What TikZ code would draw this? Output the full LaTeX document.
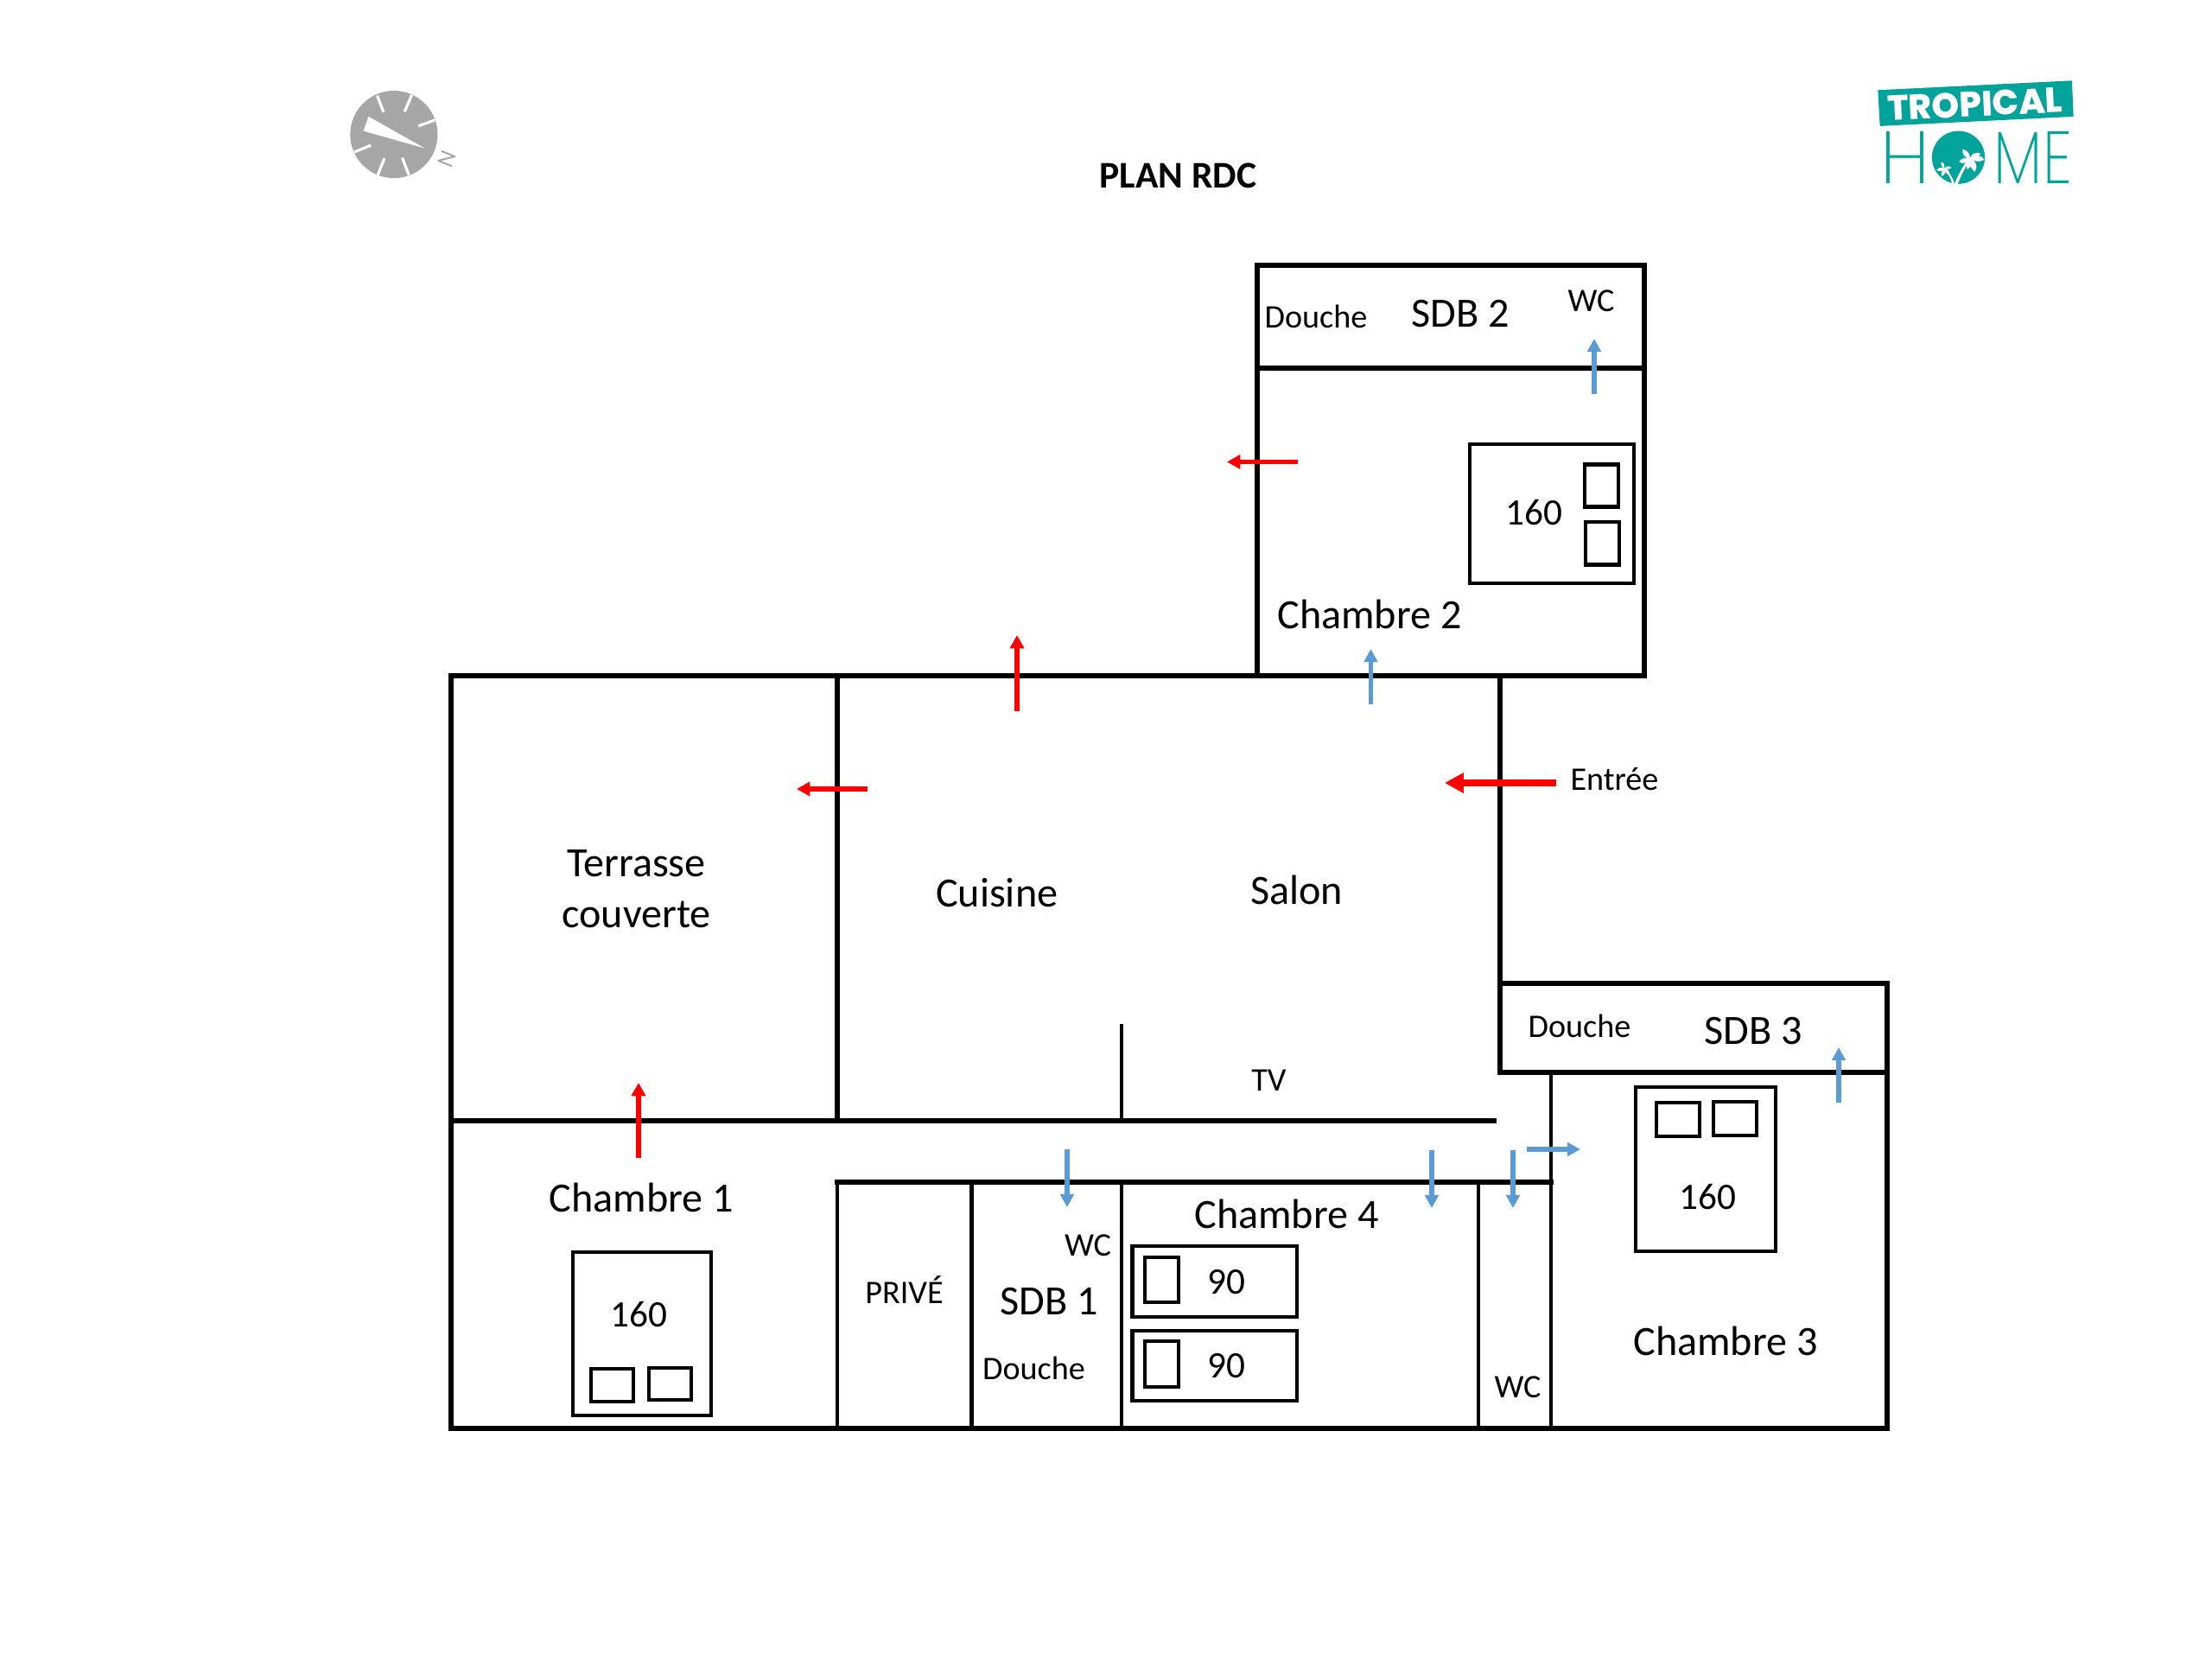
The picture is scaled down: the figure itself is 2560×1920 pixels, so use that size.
\documentclass[tikz,border=0pt]{standalone}
\usepackage{fontspec}
\usetikzlibrary{arrows.meta}
\setmainfont{Carlito}
\newfontfamily\logofont{Poppins}[UprightFont=* ExtraLight,BoldFont=* ExtraBold]
\definecolor{logoteal}{HTML}{02A39B}
\definecolor{compassgray}{HTML}{A6A6A6}
\definecolor{doorblue}{HTML}{5B9BD5}
\tikzset{
  wall/.style={line width=1.55pt,line cap=rect,line join=miter},
  partition/.style={line width=1.4pt},
  bedframe/.style={line width=1.15pt},
  pillow/.style={line width=1.25pt},
  roomname/.style={anchor=base,inner sep=0pt,font=\fontsize{13.7pt}{16.8pt}\selectfont},
  spotname/.style={anchor=base,inner sep=0pt,font=\fontsize{10.85pt}{13pt}\selectfont},
  bedsize/.style={anchor=base,inner sep=0pt,font=\fontsize{12.3pt}{14pt}\selectfont},
  reddoor/.style={red,line width=1.6pt,-{Triangle[length=4.4pt,width=4.6pt]}},
  bluedoor/.style={doorblue,line width=1.6pt,-{Triangle[length=4.3pt,width=4.4pt]}},
  tick/.style={white,line width=.9pt}
}
\begin{document}
\begin{tikzpicture}[x=0.01cm,y=-0.01cm]
\useasboundingbox (0,0) rectangle (2560,1920);

\draw[wall] (522,782) rectangle (969,1297);
\draw[wall] (522,1297) |- (2184,1653) -- (2184,1241);
\draw[wall] (969,782) -- (1903,782);
\draw[wall] (1455,782) |- (1903,307) -- (1903,782);
\draw[wall] (1455,426) -- (1903,426);
\draw[wall] (1736,1138) rectangle (2184,1241);
\draw[wall] (969,1297) -- (1729,1297);
\draw[wall] (969,1368) -- (1795,1368);
\draw[wall] (1736,782) -- (1736,1138);
\draw[partition] (1795,1241) -- (1795,1653);
\draw[partition] (1298,1185) -- (1298,1297);
\draw[partition] (969,1368) -- (969,1653);
\draw[partition] (1124.5,1368) -- (1124.5,1653);
\draw[partition] (1298,1368) -- (1298,1653);
\draw[partition] (1711,1368) -- (1711,1653);

\draw[bedframe] (1701,514) rectangle (1891,675);
\draw[pillow] (1834,537.5) rectangle (1873,586.5);
\draw[pillow] (1835,604) rectangle (1874,653.5);
\draw[bedframe] (663,1449) rectangle (823,1638);
\draw[pillow] (684,1584) rectangle (733,1622);
\draw[pillow] (751,1583) rectangle (800,1620);
\draw[bedframe] (1893,1258) rectangle (2055,1448);
\draw[pillow] (1917,1276) rectangle (1967,1315);
\draw[pillow] (1983,1275) rectangle (2033,1314);
\draw[bedframe] (1310.5,1442) rectangle (1501,1524);
\draw[pillow] (1325,1455) rectangle (1364,1507);
\draw[bedframe] (1310.5,1540) rectangle (1501,1621);
\draw[pillow] (1325,1552) rectangle (1364,1605);

\draw[reddoor] (1502,534.5) -- (1420,534.5);
\draw[reddoor] (1177,823) -- (1177,735);
\draw[reddoor] (1004,913) -- (922,913);
\draw[reddoor] (739,1340) -- (739,1253);
\draw[red,line width=2.2pt,-{Triangle[length=6.2pt,width=6.3pt]}] (1801,906) -- (1672,906);
\draw[bluedoor] (1845,456) -- (1845,392);
\draw[bluedoor] (1586.5,815) -- (1586.5,751);
\draw[bluedoor] (1235,1330) -- (1235,1397);
\draw[bluedoor] (1657,1331) -- (1657,1398);
\draw[bluedoor] (1751,1331) -- (1751,1398);
\draw[bluedoor] (1767,1330) -- (1829,1330);
\draw[bluedoor] (2128,1276) -- (2128,1212);

\node[anchor=base,inner sep=0pt,font=\fontsize{12.4pt}{14pt}\selectfont\bfseries] (title) at (1363.5,217) {PLAN RDC};
\node[spotname] (douche2) at (1523,379) {Douche};
\node[roomname] (sdb2) at (1690.5,378) {SDB 2};
\node[spotname] (wc2) at (1841.5,360) {WC};
\node[bedsize] (bed2) at (1775.5,607) {160};
\node[roomname] (chambre2) at (1585,727) {Chambre 2};
\node[spotname] (entree) at (1868.5,914) {Entrée};
\node[roomname,anchor=center,align=center] (terrasse) at (736.5,1029) {Terrasse\\couverte};
\node[roomname] (cuisine) at (1153.75,1049) {Cuisine};
\node[roomname] (salon) at (1500.5,1046) {Salon};
\node[spotname] (tv) at (1468.5,1262) {TV};
\node[spotname] (douche3) at (1828,1200) {Douche};
\node[roomname] (sdb3) at (2029.5,1208) {SDB 3};
\node[bedsize] (bed3) at (1976.5,1399) {160};
\node[roomname] (chambre3) at (1997,1568) {Chambre 3};
\node[spotname] (wc4) at (1756.5,1617) {WC};
\node[roomname] (chambre1) at (742.5,1402) {Chambre 1};
\node[bedsize] (bed1) at (739.5,1535) {160};
\node[spotname] (prive) at (1046.5,1508) {PRIVÉ};
\node[roomname] (sdb1) at (1214,1521) {SDB 1};
\node[spotname] (wc1) at (1259,1453) {WC};
\node[spotname] (douche1) at (1196.5,1596) {Douche};
\node[roomname] (chambre4) at (1489,1421) {Chambre 4};
\node[bedsize] (bed4a) at (1419.5,1497) {90};
\node[bedsize] (bed4b) at (1419.5,1594) {90};

\begin{scope}[shift={(380,80)},x=0.00333cm,y=-0.00333cm]
\fill[compassgray] (228,227) circle (152);
\draw[tick] (192,150) -- (170,92);
\draw[tick] (265,148) -- (290,90);
\draw[tick] (313,198) -- (370,177);
\draw[tick] (148,265) -- (90,288);
\draw[tick] (195,310) -- (172,368);
\draw[tick] (257,308) -- (280,368);
\fill[white] (140,165) -- (122,215) -- (335,275) -- cycle;
\node[inner sep=0pt,rotate=-112,text=compassgray,font=\fontsize{7.8pt}{9pt}\selectfont] (north) at (414,312) {N};
\end{scope}

\begin{scope}[shift={(2160,70)},x=0.00333cm,y=-0.00333cm]
\fill[logoteal] (40,103) -- (715,70) -- (720,195) -- (47,228) -- cycle;
\node[rotate=2.8,inner sep=0pt,text=white,font=\logofont\fontsize{11.5pt}{13pt}\selectfont\bfseries] (tropical) at (378,152) {TROPICAL};
\node[anchor=base,inner sep=0pt,text=logoteal,font=\logofont\fontsize{24.4pt}{26pt}\selectfont] (homeh) at (136,428) {H};
\node[anchor=base,inner sep=0pt,xscale=.8,text=logoteal,font=\logofont\fontsize{24.4pt}{26pt}\selectfont] (homeme) at (579,428) {ME};
\fill[logoteal] (320,337) circle (92);
\fill[white] (306,430) .. controls (320,395) and (340,360) .. (358,338) -- (364,340) .. controls (345,370) and (328,400) .. (318,430) -- cycle;
\fill[white] (298,428) .. controls (292,405) and (282,390) .. (270,375) -- (274,373) .. controls (288,388) and (298,405) .. (306,425) -- cycle;
\foreach \tipx/\tipy in {335/308,322/352,410/345,377/387,350/378,397/324}
  \fill[white] (361,340) to[bend left=60] (\tipx,\tipy) to[bend left=35] (361,340);
\foreach \tipx/\tipy in {262/352,244/380,296/373,262/402,287/398}
  \fill[white] (272,375) to[bend left=60] (\tipx,\tipy) to[bend left=35] (272,375);
\end{scope}
\end{tikzpicture}
\end{document}
